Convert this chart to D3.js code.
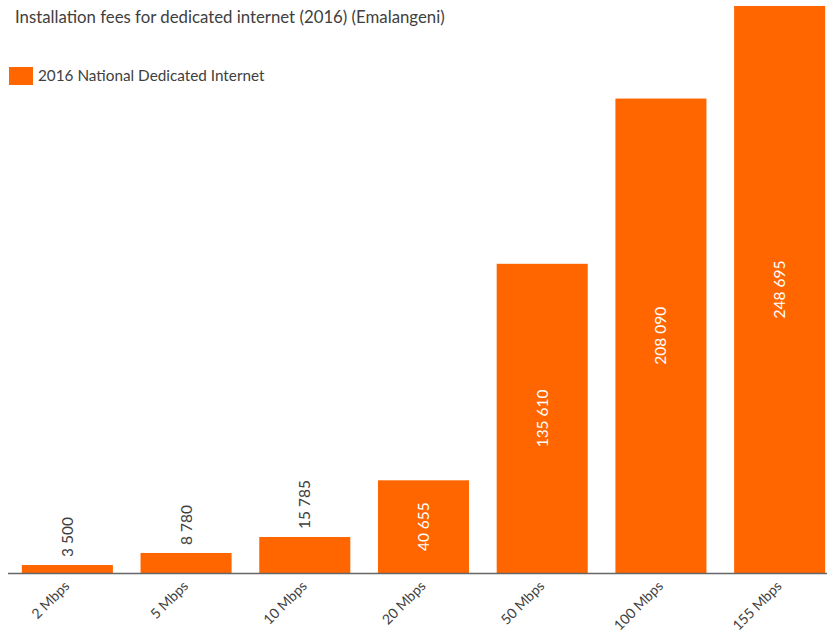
<!DOCTYPE html>
<html>
<head>
<meta charset="utf-8">
<script src="https://cdn.jsdelivr.net/npm/d3@7"></script>
<style>
  html, body { margin: 0; padding: 0; background: #fff; }
  svg { display: block; font-family: Lato, "Open Sans", sans-serif; }
</style>
</head>
<body>
<div id="chart"></div>
<script>
// Installation fees for dedicated internet, 2016 (Emalangeni)
const categories = ["2 Mbps", "5 Mbps", "10 Mbps", "20 Mbps", "50 Mbps", "100 Mbps", "155 Mbps"];
const fees = [3500, 8780, 15785, 40655, 135610, 208090, 248695];
const seriesName = "2016 National Dedicated Internet";
const title = "Installation fees for dedicated internet (2016) (Emalangeni)";

const W = 827, H = 637;
const orange = "#FF6600";
const textColor = "#404040";

const svg = d3.select("#chart").append("svg")
  .attr("width", W).attr("height", H);

const x = d3.scaleBand()
  .domain(categories)
  .range([8, 839])
  .paddingInner(0.233)
  .paddingOuter(0.1165);

const y = d3.scaleLinear()
  .domain([0, 250000])
  .range([573, 3]);

// title
svg.append("text")
  .attr("x", 15).attr("y", 23)
  .attr("fill", textColor)
  .attr("font-size", 16.8)
  .text(title);

// legend
svg.append("rect")
  .attr("x", 9).attr("y", 67).attr("width", 24).attr("height", 18)
  .attr("fill", orange);
svg.append("text")
  .attr("x", 38).attr("y", 81)
  .attr("fill", textColor)
  .attr("font-size", 15.3)
  .text(seriesName);

const data = categories.map((c, i) => ({ cat: c, v: fees[i] }));
const fmt = v => d3.format(",")(v).replace(/,/g, " ");

// bars
svg.append("g").selectAll("rect")
  .data(data).join("rect")
  .attr("x", d => x(d.cat))
  .attr("y", d => y(d.v))
  .attr("width", x.bandwidth())
  .attr("height", d => y(0) - y(d.v))
  .attr("fill", orange);

// value labels: above short bars, centred inside tall ones
const insideMin = 30000;
svg.append("g").selectAll("text")
  .data(data).join("text")
  .attr("transform", d => {
    const cx = x(d.cat) + x.bandwidth() / 2;
    const cy = d.v >= insideMin ? (y(d.v) + y(0)) / 2 : y(d.v) - 8;
    return `translate(${cx},${cy}) rotate(-90)`;
  })
  .attr("text-anchor", d => d.v >= insideMin ? "middle" : "start")
  .attr("dy", "0.35em")
  .attr("fill", d => d.v >= insideMin ? "#fff" : textColor)
  .attr("font-size", 15.5)
  .text(d => fmt(d.v));

// x axis
const xAxis = svg.append("g")
  .attr("transform", `translate(0,${y(0)})`)
  .call(d3.axisBottom(x).tickSize(0).tickPadding(0));
xAxis.select(".domain").remove();
svg.append("line")
  .attr("x1", 8).attr("x2", W)
  .attr("y1", y(0) + 0.5).attr("y2", y(0) + 0.5)
  .attr("stroke", "#666").attr("stroke-width", 1.5);
xAxis.selectAll(".tick text")
  .attr("font-family", "Lato, 'Open Sans', sans-serif")
  .attr("font-size", 14)
  .attr("fill", textColor)
  .attr("text-anchor", "end")
  .attr("dy", null)
  .attr("y", null)
  .attr("transform", "translate(3,14) rotate(-45)");
</script>
</body>
</html>
